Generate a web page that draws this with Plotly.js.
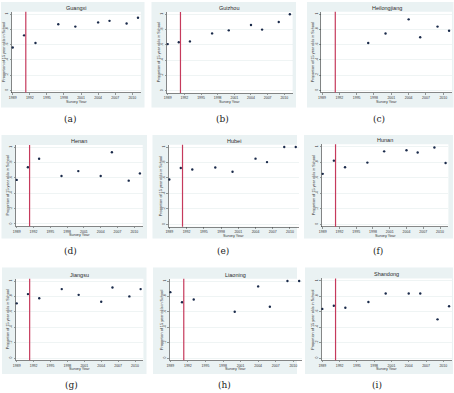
<!DOCTYPE html>
<html><head><meta charset="utf-8">
<script src="https://cdn.plot.ly/plotly-3.0.1.min.js"></script>
<style>html,body{margin:0;padding:0;background:#fff}#chart{width:454px;height:393px}</style>
</head><body><div id="chart"></div>
<script>
// ---- data ----
const surveyYears = [1989, 1991, 1993, 1997, 2000, 2004, 2006, 2009, 2011];
const provinces = ['Guangxi', 'Guizhou', 'Heilongjiang', 'Henan', 'Hubei', 'Hunan', 'Jiangsu', 'Liaoning', 'Shandong'];
const captions = ['(a)', '(b)', '(c)', '(d)', '(e)', '(f)', '(g)', '(h)', '(i)'];
const guangxi      = [0.56, 0.72, 0.62, 0.865, 0.835, 0.89, 0.91, 0.875, 0.95];
const guizhou      = [0.61, 0.635, 0.645, 0.75, 0.79, 0.86, 0.80, 0.90, 1.0];
const heilongjiang = [null, null, null, 0.62, 0.745, 0.93, 0.695, 0.835, 0.78];
const henan        = [0.575, 0.74, 0.85, 0.625, 0.69, 0.625, 0.935, 0.565, 0.66];
const hubei        = [0.58, 0.73, 0.71, 0.735, 0.68, 0.85, 0.805, 1.0, 1.0];
const hunan        = [0.65, 0.82, 0.735, 0.795, 0.94, 0.955, 0.925, 0.99, 0.79];
const jiangsu      = [0.71, 0.83, 0.775, 0.895, 0.82, 0.73, 0.915, 0.80, 0.895];
const liaoning     = [0.855, 0.725, 0.76, null, 0.60, 0.93, 0.665, 1.0, 1.0];
const shandong     = [0.635, 0.675, 0.65, 0.725, 0.835, 0.835, 0.835, 0.50, 0.67];
const seriesList = [guangxi, guizhou, heilongjiang, henan, hubei, hunan, jiangsu, liaoning, shandong];
const xTickVals = [1989, 1992, 1995, 1998, 2001, 2004, 2007, 2010];
const yTickVals = [0, 0.2, 0.4, 0.6, 0.8, 1];
const yTickText = ['0', '.2', '.4', '.6', '.8', '1'];
const policyYear = 1991.3;
const xTitle = 'Survey Year';
const yTitle = 'Proportion of 15 year olds in School';

// ---- layout geometry (pixels) ----
const W = 454, H = 393;
// [x of 1989 tick, x of 2010 tick, y of tick 1, y of tick 0]
const tickPix = [
  [12.7, 132.3, 14, 90.3], [167.7, 284.3, 14.3, 90.7], [322, 443.3, 14, 90.3],
  [16.7, 134.3, 147.3, 224], [169.3, 290, 147, 224.5], [322.7, 440, 146.7, 224.3],
  [16.7, 135, 281, 358], [170.3, 293.3, 281, 358], [322.3, 443.3, 280.7, 358]
];
// panel background boxes [x0, x1, y0, y1]
const boxPix = [
  [1, 144.5, 2, 107.5], [151.5, 296, 2, 107.5], [307, 453.5, 2, 107.5],
  [1.5, 147, 135, 238.5], [152.5, 297, 135, 238.5], [304, 453, 135, 238.5],
  [2, 146.5, 267.5, 374], [153, 297, 267.5, 374], [305, 453, 267.5, 374]
];
const captionY = [119, 119, 119, 251, 251, 251, 385, 385, 385];
const captionX = [70, 222, 379, 70, 223, 378, 71, 224, 377];
const XR = [1988.85, 2011.5], YR = [-0.03, 1.03];

const font = 'Liberation Sans';
const axisCol = '#3a3a3a';
const traces = [], shapes = [], annotations = [];
const layout = {
  width: W, height: H, margin: {l: 0, r: 0, t: 0, b: 0},
  paper_bgcolor: '#ffffff', plot_bgcolor: 'rgba(0,0,0,0)', showlegend: false,
  font: {family: font, color: '#222'}
};

boxPix.forEach(b => {
  shapes.push({type: 'rect', xref: 'paper', yref: 'paper', layer: 'below',
    x0: b[0] / W, x1: b[1] / W, y0: 1 - b[3] / H, y1: 1 - b[2] / H,
    fillcolor: '#eaf2f3', line: {width: 0}});
});

provinces.forEach((name, i) => {
  const k = i + 1, sfx = k === 1 ? '' : String(k);
  const [x89, x10, y1p, y0p] = tickPix[i];
  const ppy = (x10 - x89) / 21;
  const ppu = y0p - y1p;
  const left = x89 + (XR[0] - 1989) * ppy, right = x89 + (XR[1] - 1989) * ppy;
  const top = y0p - YR[1] * ppu, bottom = y0p - YR[0] * ppu;

  shapes.push({type: 'rect', xref: 'paper', yref: 'paper', layer: 'below',
    x0: left / W, x1: right / W, y0: 1 - bottom / H, y1: 1 - top / H,
    fillcolor: '#ffffff', line: {width: 0}});

  layout['xaxis' + sfx] = {
    domain: [left / W, right / W], range: XR, anchor: 'y' + sfx,
    tickmode: 'array', tickvals: xTickVals, ticktext: xTickVals.map(String),
    ticks: 'outside', ticklen: 1.5, tickwidth: 0.5, tickcolor: axisCol,
    showline: true, linecolor: axisCol, linewidth: 0.6, mirror: false,
    showgrid: false, zeroline: false, fixedrange: true,
    tickfont: {size: 3.5, family: font, color: '#333'}
  };
  layout['yaxis' + sfx] = {
    domain: [1 - bottom / H, 1 - top / H], range: YR, anchor: 'x' + sfx,
    tickmode: 'array', tickvals: yTickVals, ticktext: yTickText, tickangle: -90,
    ticks: 'outside', ticklen: 1.5, tickwidth: 0.5, tickcolor: axisCol,
    showline: true, linecolor: axisCol, linewidth: 0.6,
    showgrid: true, gridcolor: '#e4eced', gridwidth: 0.6, zeroline: false, fixedrange: true,
    tickfont: {size: 3.5, family: font, color: '#333'}
  };

  traces.push({
    type: 'scatter', mode: 'markers', x: surveyYears, y: seriesList[i],
    xaxis: 'x' + sfx, yaxis: 'y' + sfx,
    marker: {size: 2.4, color: '#1a2a4a', symbol: 'circle'},
    hoverinfo: 'x+y', cliponaxis: false
  });

  shapes.push({type: 'line', xref: 'x' + sfx, yref: 'y' + sfx + ' domain',
    x0: policyYear, x1: policyYear, y0: 0, y1: 1,
    line: {color: '#c63a5c', width: 1.2}});

  annotations.push({text: name, xref: 'paper', yref: 'paper', x: (left + right) / 2 / W,
    y: 1 - (top - 4) / H, xanchor: 'center', yanchor: 'middle', showarrow: false,
    font: {size: 5.5, family: font, color: '#2a2a2a'}});
  annotations.push({text: xTitle, xref: 'paper', yref: 'paper', x: (left + right) / 2 / W,
    y: 1 - (bottom + 9) / H, xanchor: 'center', yanchor: 'middle', showarrow: false,
    font: {size: 3.8, family: font, color: '#333'}});
  annotations.push({text: yTitle, xref: 'paper', yref: 'paper', x: (left - 8) / W,
    y: 1 - (top + bottom) / 2 / H, xanchor: 'center', yanchor: 'middle', textangle: -90,
    showarrow: false, font: {size: 3.8, family: font, color: '#333'}});
  annotations.push({text: captions[i], xref: 'paper', yref: 'paper', x: captionX[i] / W,
    y: 1 - captionY[i] / H, xanchor: 'center', yanchor: 'middle', showarrow: false,
    font: {size: 9, family: 'DejaVu Serif', color: '#222'}});
});

layout.shapes = shapes;
layout.annotations = annotations;
Plotly.newPlot('chart', traces, layout, {displayModeBar: false, staticPlot: true});
</script></body></html>
